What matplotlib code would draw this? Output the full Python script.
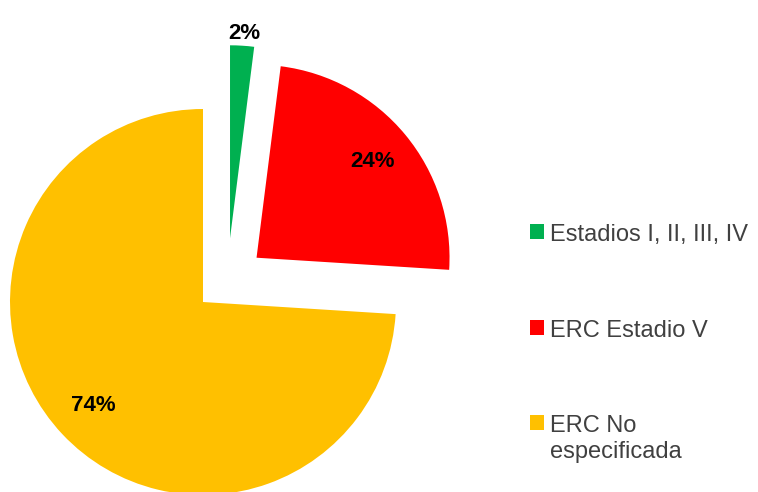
import matplotlib
matplotlib.use("Agg")
import matplotlib.pyplot as plt
from matplotlib.patches import Patch

categories = ["Estadios I, II, III, IV", "ERC Estadio V", "ERC No\nespecificada"]
values = [2, 24, 74]
colors = ["#00B050", "#FF0000", "#FFC000"]
explode = [0.0, 0.36, 0.0]
green_offset = (0.14, 0.33)  # extra displacement for the small slice

plt.rcParams['font.family'] = ['Liberation Sans', 'DejaVu Sans']

W, H = 758, 492
dpi = 100
fig = plt.figure(figsize=(W / dpi, H / dpi), dpi=dpi)
ax = fig.add_axes([0, 0, 1, 1])

R = 193.0
cx, cy = 203.0, 492 - 302.0

wedges, texts, autotexts = ax.pie(
    values, colors=colors, explode=explode, startangle=90, counterclock=False,
    autopct=lambda p: f"{p:.0f}%", pctdistance=0.78,
    textprops=dict(fontsize=16, fontweight='bold', color='black'),
    wedgeprops=dict(linewidth=0),
)

# shift small slice and its label
gx, gy = green_offset
wedges[0].set_center((gx, gy))
autotexts[0].set_position((gx + 0.075, gy + 1.06))
autotexts[0].set_va('center')

ax.set_xlim(-cx / R, (W - cx) / R)
ax.set_ylim(-cy / R, (H - cy) / R)
ax.set_aspect('auto')
ax.axis('off')

handles = [Patch(facecolor=c, edgecolor='none') for c in colors]
leg = fig.legend(handles, categories, loc='upper left',
                 bbox_to_anchor=(530 / W, 1 - 224 / H), frameon=False,
                 borderaxespad=0, borderpad=0,
                 fontsize=17, handlelength=0.6, handleheight=0.6,
                 handletextpad=0.25, labelspacing=3.12, labelcolor='#404040')

# align markers with the first line of each label
for col in leg._legend_handle_box.get_children():
    for item in col.get_children():
        item.align = "top"

fig.savefig("out.png", dpi=dpi)
